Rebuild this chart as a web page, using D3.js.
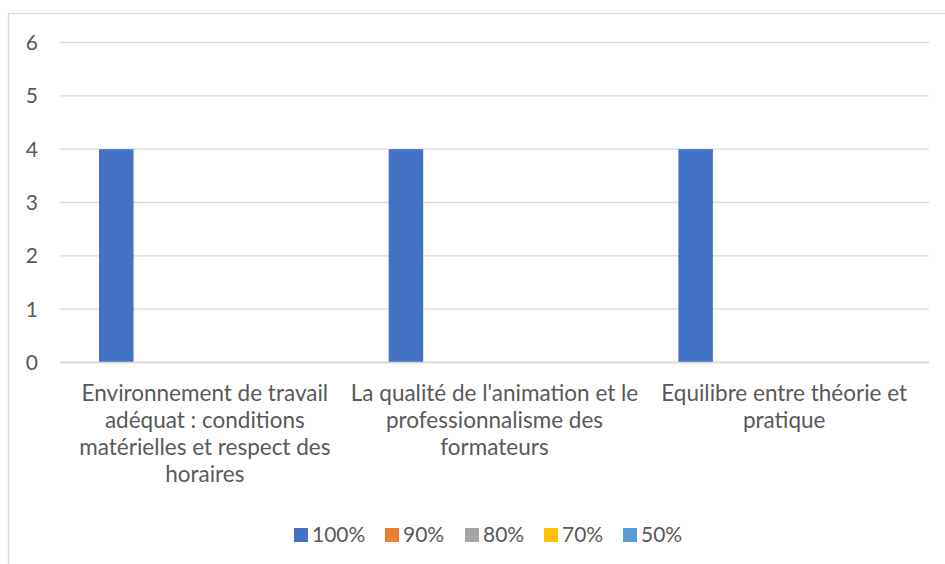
<!DOCTYPE html>
<html lang="fr">
<head>
<meta charset="UTF-8">
<title>Évaluation</title>
<script src="https://d3js.org/d3.v7.min.js"></script>
<style>
  body { margin: 0; background: #fff; }
  svg text { font-family: Lato, "Open Sans", sans-serif; fill: #595959; }
</style>
</head>
<body>
<div id="chart"></div>
<script>
const categories = [
  "Environnement de travail adéquat : conditions matérielles et respect des horaires",
  "La qualité de l'animation et le professionnalisme des formateurs",
  "Equilibre entre théorie et pratique"
];
// line breaks as shown under the axis
const categoryLines = [
  ["Environnement de travail", "adéquat : conditions", "matérielles et respect des", "horaires"],
  ["La qualité de l'animation et le", "professionnalisme des", "formateurs"],
  ["Equilibre entre théorie et", "pratique"]
];
const seriesNames = ["100%", "90%", "80%", "70%", "50%"];
const seriesColors = ["#4472C4", "#ED7D31", "#A5A5A5", "#FFC000", "#5B9BD5"];
const values100 = [4, 4, 4];
const values90 = [0, 0, 0];
const values80 = [0, 0, 0];
const values70 = [0, 0, 0];
const values50 = [0, 0, 0];
const yTicks = [0, 1, 2, 3, 4, 5, 6];

const seriesValues = [values100, values90, values80, values70, values50];

const width = 945, height = 564;
const plot = { left: 60, right: 929, top: 42.5, bottom: 362.5 };
const fontSize = 21;

const svg = d3.select("#chart").append("svg")
  .attr("width", width).attr("height", height);

// chart area border (runs off the right and bottom edges)
svg.append("rect")
  .attr("x", 8.5).attr("y", 13.5)
  .attr("width", width + 20).attr("height", height + 20)
  .attr("fill", "#fff").attr("stroke", "#d9d9d9").attr("stroke-width", 1.3);

const y = d3.scaleLinear().domain([0, 6]).range([plot.bottom, plot.top]);
const x = d3.scaleBand().domain(categories).range([plot.left, plot.right]);
const xs = d3.scaleBand().domain(seriesNames)
  .range([39, x.bandwidth() - 39])
  .paddingInner(0.22);

// gridlines
svg.append("g").selectAll("line")
  .data(yTicks)
  .join("line")
  .attr("x1", plot.left).attr("x2", plot.right)
  .attr("y1", d => y(d)).attr("y2", d => y(d))
  .attr("stroke", "#d9d9d9").attr("stroke-width", 1.3);

// y labels
svg.append("g").selectAll("text")
  .data(yTicks)
  .join("text")
  .attr("x", 38).attr("y", d => y(d))
  .attr("dy", "0.36em")
  .attr("text-anchor", "end")
  .style("font-size", fontSize + "px")
  .text(d => d);

// bars
const groups = svg.append("g").selectAll("g")
  .data(categories)
  .join("g")
  .attr("transform", d => `translate(${x(d)},0)`);

groups.selectAll("rect")
  .data((d, i) => seriesNames.map((s, j) => ({ s, j, v: seriesValues[j][i] })))
  .join("rect")
  .attr("x", d => xs(d.s))
  .attr("width", xs.bandwidth())
  .attr("y", d => y(d.v))
  .attr("height", d => y(0) - y(d.v))
  .attr("fill", d => seriesColors[d.j]);

// baseline
svg.append("line")
  .attr("x1", plot.left).attr("x2", plot.right)
  .attr("y1", y(0)).attr("y2", y(0))
  .attr("stroke", "#d9d9d9").attr("stroke-width", 1.3);

// category labels
svg.append("g").selectAll("text")
  .data(categories)
  .join("text")
  .attr("text-anchor", "middle")
  .style("font-size", "22.5px")
  .attr("transform", d => `translate(${x(d) + x.bandwidth() / 2},401)`)
  .each(function(d, i) {
    d3.select(this).selectAll("tspan")
      .data(categoryLines[i])
      .join("tspan")
      .attr("x", 0)
      .attr("y", (t, k) => k * 27)
      .text(t => t);
  });

// legend
const legendX = [294, 385, 465, 544, 623];
const legend = svg.append("g").selectAll("g")
  .data(seriesNames)
  .join("g")
  .attr("transform", (d, i) => `translate(${legendX[i]},528)`);
legend.append("rect")
  .attr("width", 14).attr("height", 14)
  .attr("fill", (d, i) => seriesColors[i]);
legend.append("text")
  .attr("x", 18).attr("y", 14)
  .style("font-size", fontSize + "px")
  .text(d => d);
</script>
</body>
</html>
